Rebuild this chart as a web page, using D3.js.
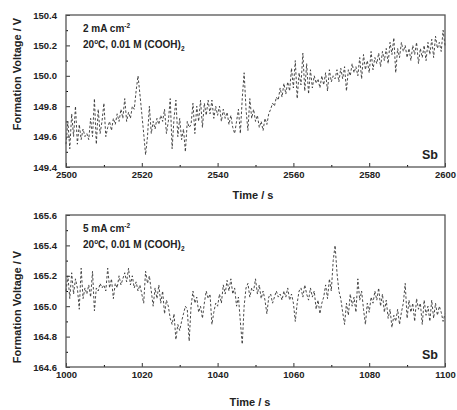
<!DOCTYPE html>
<html>
<head>
<meta charset="utf-8">
<script src="https://cdn.jsdelivr.net/npm/d3@7"></script>
<style>
  body { margin: 0; background: #fff; }
  text { font-family: "Liberation Sans", Arial, sans-serif; font-weight: bold; fill: #222; }
</style>
</head>
<body>
<div id="chart"></div>
<script>
// data: formation voltage sampled every 0.5 s

var topStart = 2500;
var topVolts = [
  149.55, 149.70, 149.52, 149.75, 149.60, 149.80, 149.55, 149.68, 149.58, 149.65, 149.60, 149.62,
  149.58, 149.72, 149.60, 149.85, 149.55, 149.78, 149.62, 149.70, 149.82, 149.60, 149.66, 149.70,
  149.64, 149.72, 149.68, 149.75, 149.70, 149.78, 149.72, 149.85, 149.70, 149.76, 149.72, 149.80,
  149.78, 149.90, 150.00, 149.88, 149.75, 149.62, 149.48, 149.60, 149.80, 149.62, 149.70, 149.65,
  149.72, 149.68, 149.74, 149.70, 149.78, 149.62, 149.70, 149.85, 149.52, 149.72, 149.84, 149.60,
  149.72, 149.58, 149.65, 149.50, 149.70, 149.66, 149.68, 149.82, 149.62, 149.80, 149.70, 149.84,
  149.66, 149.82, 149.74, 149.84, 149.75, 149.84, 149.72, 149.80, 149.74, 149.80, 149.70, 149.78,
  149.72, 149.76, 149.68, 149.74, 149.66, 149.62, 149.70, 149.78, 149.62, 149.85, 150.02, 149.78,
  149.64, 149.85, 149.72, 149.78, 149.70, 149.74, 149.66, 149.70, 149.64, 149.72, 149.68, 149.75,
  149.78, 149.82, 149.80, 149.86, 149.84, 149.92, 149.86, 149.95, 149.88, 149.96, 149.90, 150.05,
  149.92, 150.10, 149.85, 150.02, 149.94, 150.15, 149.90, 150.08, 149.88, 150.04, 149.92, 150.00,
  149.95, 149.98, 149.92, 150.00, 149.94, 150.02, 149.90, 150.04, 149.96, 150.00, 149.98, 150.04,
  149.96, 150.05, 149.98, 150.06, 149.90, 150.04, 150.00, 150.08, 150.02, 150.06, 150.00, 150.12,
  149.98, 150.14, 150.04, 150.10, 150.02, 150.16, 150.04, 150.12, 150.08, 150.15, 150.06, 150.16,
  150.10, 150.18, 150.08, 150.22, 150.14, 150.25, 150.02, 150.18, 150.12, 150.22, 150.16, 150.20,
  150.12, 150.18, 150.10, 150.20, 150.14, 150.22, 150.08, 150.18, 150.12, 150.20, 150.10, 150.22,
  150.14, 150.24, 150.12, 150.26, 150.18, 150.22, 150.16, 150.30, 150.20
];

var bottomStart = 1000;
var bottomVolts = [
  165.10, 165.20, 165.05, 165.22, 165.08, 165.18, 165.12, 164.98, 165.25, 165.05, 165.12, 165.08,
  165.14, 165.06, 165.23, 164.97, 165.12, 165.10, 165.15, 165.12, 165.14, 165.10, 165.25, 165.12,
  165.18, 165.05, 165.15, 165.12, 165.20, 165.14, 165.18, 165.22, 165.16, 165.25, 165.14, 165.20,
  165.12, 165.16, 165.10, 165.14, 165.08, 165.02, 165.23, 165.15, 165.20, 165.10, 165.00, 165.12,
  165.05, 165.14, 165.02, 165.10, 164.95, 165.04, 165.00, 164.92, 164.88, 164.95, 164.78, 164.88,
  164.84, 164.90, 164.95, 165.00, 164.98, 164.77, 165.00, 165.10, 165.02, 165.06, 164.96, 165.00,
  164.92, 165.02, 165.10, 165.05, 165.08, 164.88, 164.96, 165.02, 165.00, 165.08, 165.02, 165.14,
  165.08, 165.17, 165.10, 165.18, 165.08, 165.12, 165.00, 165.06, 164.90, 164.75, 165.00, 165.12,
  165.15, 165.06, 165.12, 165.10, 165.18, 165.08, 165.14, 165.05, 165.10, 165.04, 164.95, 165.06,
  165.08, 165.02, 165.06, 165.10, 165.06, 165.08, 165.04, 165.10, 165.06, 165.12, 165.04, 165.08,
  165.02, 164.90, 165.02, 165.10, 165.12, 165.06, 165.14, 165.08, 165.04, 165.12, 165.06, 165.10,
  164.98, 165.04, 164.95, 165.02, 165.06, 165.14, 165.05, 165.18, 165.10, 165.30, 165.40, 165.22,
  165.10, 165.05, 164.96, 164.88, 165.02, 164.94, 165.08, 165.00, 165.06, 164.96, 165.18, 165.04,
  165.10, 164.98, 164.88, 165.02, 164.96, 165.06, 165.02, 165.10, 165.04, 165.12, 165.00, 165.08,
  164.96, 165.04, 164.92, 164.98, 164.86, 164.94, 164.90, 164.98, 164.88, 164.96, 165.02, 165.15,
  164.92, 165.04, 164.96, 165.02, 164.90, 165.05, 164.98, 165.02, 164.88, 165.04, 164.94, 165.00,
  164.90, 165.04, 164.92, 165.02, 164.94, 165.00, 164.96, 164.90, 164.95
];

var topXTicks = [2500, 2520, 2540, 2560, 2580, 2600];
var topYTicks = [149.4, 149.6, 149.8, 150.0, 150.2, 150.4];
var bottomXTicks = [1000, 1020, 1040, 1060, 1080, 1100];
var bottomYTicks = [164.6, 164.8, 165.0, 165.2, 165.4, 165.6];

var svg = d3.select("#chart").append("svg")
    .attr("width", 457)
    .attr("height", 410);

function drawPanel(opt) {
    var x = d3.scaleLinear().domain(opt.xDomain).range([66, 445]);
    var y = d3.scaleLinear().domain(opt.yDomain).range([opt.bottom, opt.top]);

    var pts = opt.values.map(function (v, i) { return [opt.start + i * 0.5, v]; });

    var g = svg.append("g");

    // minor ticks
    var xMinor = d3.range(opt.xDomain[0] + 10, opt.xDomain[1], 20);
    var yMinor = d3.range(0, 5).map(function (i) { return opt.yDomain[0] + 0.1 + i * 0.2; });

    g.append("g")
        .attr("transform", "translate(0," + opt.bottom + ")")
        .call(d3.axisBottom(x).tickValues(xMinor).tickSizeInner(-2).tickSizeOuter(0).tickFormat(""))
        .call(function (a) { a.select(".domain").remove(); });
    g.append("g")
        .attr("transform", "translate(66,0)")
        .call(d3.axisLeft(y).tickValues(yMinor).tickSizeInner(-2).tickSizeOuter(0).tickFormat(""))
        .call(function (a) { a.select(".domain").remove(); });

    // major ticks with labels
    var xa = g.append("g")
        .attr("transform", "translate(0," + opt.bottom + ")")
        .call(d3.axisBottom(x).tickValues(opt.xTicks).tickSizeInner(-4).tickSizeOuter(0).tickPadding(4.5).tickFormat(d3.format("d")));
    var ya = g.append("g")
        .attr("transform", "translate(66,0)")
        .call(d3.axisLeft(y).tickValues(opt.yTicks).tickSizeInner(-4).tickSizeOuter(0).tickPadding(9).tickFormat(d3.format(".1f")));
    [xa, ya].forEach(function (a) {
        a.select(".domain").remove();
        a.selectAll("text").style("font-size", "9.5px").style("font-family", "Liberation Sans, Arial, sans-serif").attr("fill", "#222");
        a.selectAll("line").attr("stroke", "#333");
    });

    // trace
    g.append("path")
        .datum(pts)
        .attr("fill", "none")
        .attr("stroke", "#333")
        .attr("stroke-width", 0.9)
        .attr("stroke-dasharray", "2.5,2")
        .attr("d", d3.line().x(function (d) { return x(d[0]); }).y(function (d) { return y(d[1]); }));

    // frame
    g.append("rect")
        .attr("x", 66).attr("y", opt.top)
        .attr("width", 379).attr("height", opt.bottom - opt.top)
        .attr("fill", "none").attr("stroke", "#555").attr("stroke-width", 1.3);

    // annotations
    var t1 = g.append("text").attr("x", 83).attr("y", opt.top + 17).style("font-size", "10px");
    t1.append("tspan").text(opt.current + " mA cm");
    t1.append("tspan").attr("dy", -4).style("font-size", "6.5px").text("-2");
    var t2 = g.append("text").attr("x", 83).attr("y", opt.top + 33).style("font-size", "10px");
    t2.append("tspan").text("20");
    t2.append("tspan").attr("dy", -4).style("font-size", "6.5px").text("o");
    t2.append("tspan").attr("dy", 4).text("C, 0.01 M (COOH)");
    t2.append("tspan").attr("dy", 3).style("font-size", "6.5px").text("2");

    g.append("text")
        .attr("x", 438).attr("y", opt.bottom - 8)
        .attr("text-anchor", "end")
        .style("font-size", "12.5px")
        .text("Sb");

    g.append("text")
        .attr("transform", "translate(21," + opt.labelY + ") rotate(-90)")
        .attr("text-anchor", "middle")
        .style("font-size", "11px")
        .text("Formation Voltage / V");

    g.append("text")
        .attr("x", opt.timeX).attr("y", opt.timeY)
        .attr("text-anchor", "middle")
        .style("font-size", "11px")
        .text("Time / s");
}

drawPanel({
    start: topStart, values: topVolts,
    xDomain: [2500, 2600], yDomain: [149.4, 150.4],
    xTicks: topXTicks, yTicks: topYTicks,
    top: 15, bottom: 167, current: 2,
    labelY: 74, timeX: 253, timeY: 199
});

drawPanel({
    start: bottomStart, values: bottomVolts,
    xDomain: [1000, 1100], yDomain: [164.6, 165.6],
    xTicks: bottomXTicks, yTicks: bottomYTicks,
    top: 215, bottom: 367, current: 5,
    labelY: 307, timeX: 250, timeY: 406
});
</script>
</body>
</html>
